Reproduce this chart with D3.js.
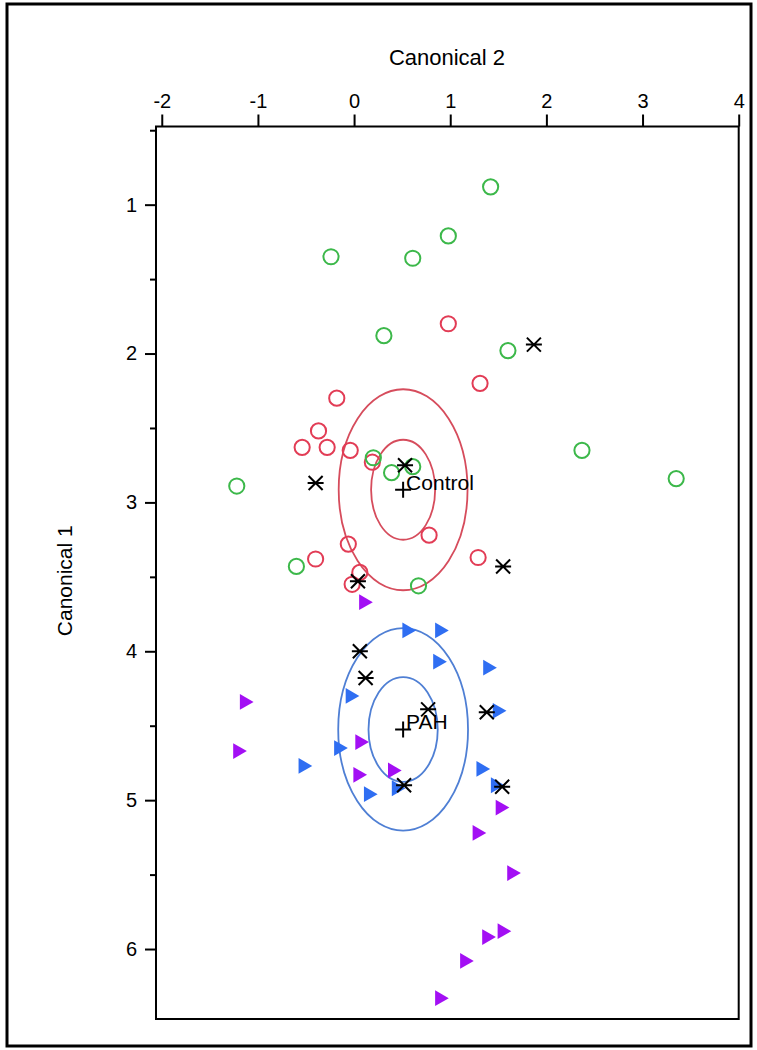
<!DOCTYPE html>
<html><head><meta charset="utf-8">
<script src="https://cdn.jsdelivr.net/npm/d3@7"></script>
<style>body{margin:0;background:#fff} text{font-family:"Liberation Sans",Arial,sans-serif;fill:#000}</style>
</head><body><svg id="c" width="757" height="1050"></svg>
<script>
// ---- data ----
const xDomain = [-2.06, 4];
const yDomain = [0.475, 6.47];
const xTicks = [-2, -1, 0, 1, 2, 3, 4];
const yTicks = [1, 2, 3, 4, 5, 6];
const yMinorTicks = [0.5, 1.5, 2.5, 3.5, 4.5, 5.5];
const xTitle = "Canonical 2";
const yTitle = "Canonical 1";

// green open circles
const greenX = [1.42, 0.98, -0.24, 0.61, 0.31, 1.60, 2.37, 3.35, -1.22, 0.20, 0.39, 0.61, -0.60, 0.67];
const greenY = [0.88, 1.21, 1.35, 1.36, 1.88, 1.98, 2.65, 2.84, 2.89, 2.70, 2.80, 2.76, 3.43, 3.56];
// red open circles
const redX = [-0.18, -0.37, -0.54, -0.28, -0.04, 0.19, 0.78, -0.06, -0.40, 1.29, 0.06, -0.02, 0.98, 1.31];
const redY = [2.30, 2.52, 2.63, 2.63, 2.65, 2.73, 3.22, 3.28, 3.38, 3.37, 3.47, 3.55, 1.80, 2.20];
// blue triangles
const blueX = [0.55, 0.89, 0.87, 1.39, -0.04, 1.49, -0.16, -0.53, 1.32, 1.47, 0.15, 0.44];
const blueY = [3.86, 3.86, 4.07, 4.11, 4.30, 4.40, 4.65, 4.77, 4.79, 4.90, 4.96, 4.92];
// purple triangles
const purpleX = [0.10, -1.14, -1.21, 0.06, 0.04, 0.40, 1.52, 1.28, 1.64, 1.54, 1.38, 1.15, 0.89];
const purpleY = [3.67, 4.34, 4.67, 4.61, 4.83, 4.80, 5.05, 5.22, 5.49, 5.88, 5.92, 6.08, 6.33];
// black stars
const starX = [1.87, -0.40, 0.53, 1.55, 0.04, 0.06, 0.12, 0.77, 1.38, 0.52, 1.54];
const starY = [1.94, 2.87, 2.75, 3.43, 3.53, 4.00, 4.18, 4.39, 4.41, 4.90, 4.91];

// group centroids and confidence ellipses
const groupNames = ["Control", "PAH"];
const centroidX = [0.51, 0.51];
const centroidY = [2.915, 4.525];
const innerRx = [0.333, 0.36];
const innerRy = [0.336, 0.352];
const outerRx = [0.67, 0.675];
const outerRy = [0.675, 0.68];
const ellipseColors = ["#d64c5c", "#4f7fd4"];

// ---- drawing ----
const svg = d3.select("#c");
const x = d3.scaleLinear().domain(xDomain).range([156, 738.7]);
const y = d3.scaleLinear().domain(yDomain).range([126.5, 1019]);
const fmt = d => String(d);

// outer frame
svg.append("rect").attr("x", 7).attr("y", 4).attr("width", 744).attr("height", 1042)
  .attr("fill", "none").attr("stroke", "#000").attr("stroke-width", 3);

// plot box
svg.append("rect").attr("x", x(xDomain[0])).attr("y", y(yDomain[0]))
  .attr("width", x(xDomain[1]) - x(xDomain[0])).attr("height", y(yDomain[1]) - y(yDomain[0]))
  .attr("fill", "none").attr("stroke", "#000").attr("stroke-width", 2);

// top axis
const gx = svg.append("g").attr("transform", `translate(0,${y(yDomain[0])})`)
  .call(d3.axisTop(x).tickValues(xTicks).tickSize(12).tickPadding(7).tickFormat(fmt));
gx.select(".domain").remove();
gx.selectAll(".tick line").attr("stroke", "#000").attr("stroke-width", 2);
gx.selectAll(".tick text").attr("font-size", 20).style("font-family", '"Liberation Sans",Arial,sans-serif').attr("fill", "#000");

// left axis
const gy = svg.append("g").attr("transform", `translate(${x(xDomain[0])},0)`)
  .call(d3.axisLeft(y).tickValues(yTicks).tickSize(11).tickPadding(8).tickFormat(fmt));
gy.select(".domain").remove();
gy.selectAll(".tick line").attr("stroke", "#000").attr("stroke-width", 2);
gy.selectAll(".tick text").attr("font-size", 20).style("font-family", '"Liberation Sans",Arial,sans-serif').attr("fill", "#000");
const gyMinor = svg.append("g").attr("transform", `translate(${x(xDomain[0])},0)`)
  .call(d3.axisLeft(y).tickValues(yMinorTicks).tickSize(6).tickFormat(""));
gyMinor.select(".domain").remove();
gyMinor.selectAll(".tick line").attr("stroke", "#000").attr("stroke-width", 2);

// titles
svg.append("text").attr("x", 447).attr("y", 65).attr("text-anchor", "middle")
  .attr("font-size", 22).text(xTitle);
svg.append("text").attr("transform", `translate(72,${(y(yDomain[0]) + y(yDomain[1])) / 2 + 8}) rotate(-90)`)
  .attr("text-anchor", "middle").attr("font-size", 21).text(yTitle);

const plot = svg.append("g");

// ellipses
groupNames.forEach((g, i) => {
  [[innerRx[i], innerRy[i]], [outerRx[i], outerRy[i]]].forEach(([rx, ry]) => {
    plot.append("ellipse")
      .attr("cx", x(centroidX[i])).attr("cy", y(centroidY[i]))
      .attr("rx", x(centroidX[i] + rx) - x(centroidX[i]))
      .attr("ry", y(centroidY[i] + ry) - y(centroidY[i]))
      .attr("fill", "none").attr("stroke", ellipseColors[i]).attr("stroke-width", 1.8);
  });
});

function circles(xs, ys, color) {
  plot.append("g").selectAll("circle").data(xs.map((v, i) => [v, ys[i]])).join("circle")
    .attr("cx", d => x(d[0])).attr("cy", d => y(d[1])).attr("r", 7.6)
    .attr("fill", "none").attr("stroke", color).attr("stroke-width", 2);
}
const tri = d3.symbol().type(d3.symbolTriangle).size(108);
function triangles(xs, ys, color) {
  plot.append("g").selectAll("path").data(xs.map((v, i) => [v, ys[i]])).join("path")
    .attr("d", tri)
    .attr("transform", d => `translate(${x(d[0])},${y(d[1])}) rotate(90)`)
    .attr("fill", color);
}
circles(redX, redY, "#e23c55");
circles(greenX, greenY, "#3cb84a");
triangles(blueX, blueY, "#2f6ef2");
triangles(purpleX, purpleY, "#a30ff4");

// stars
const s = 7;
plot.append("g").selectAll("path").data(starX.map((v, i) => [v, starY[i]])).join("path")
  .attr("d", d => {
    const cx = x(d[0]), cy = y(d[1]);
    return `M${cx - s},${cy - s}L${cx + s},${cy + s}M${cx - s},${cy + s}L${cx + s},${cy - s}M${cx - s - 1},${cy}L${cx + s + 1},${cy}`;
  })
  .attr("stroke", "#000").attr("stroke-width", 2).attr("fill", "none");

// centroid plus signs and labels
groupNames.forEach((g, i) => {
  const cx = x(centroidX[i]), cy = y(centroidY[i]);
  plot.append("path").attr("d", `M${cx - 8},${cy}L${cx + 8},${cy}M${cx},${cy - 8}L${cx},${cy + 8}`)
    .attr("stroke", "#000").attr("stroke-width", 2);
  plot.append("text").attr("x", cx + 3).attr("y", cy).attr("font-size", 21).text(g);
});
</script></body></html>
